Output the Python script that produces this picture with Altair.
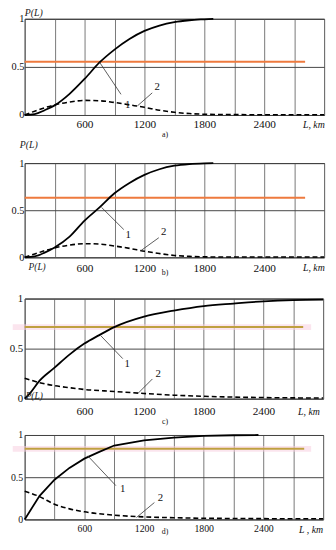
import altair as alt
import pandas as pd

FONT = "Liberation Serif"

# ---------------- data ----------------
La1 = [0, 100, 200, 300, 450, 600, 750, 900, 1050, 1200, 1350, 1500, 1650, 1800, 1890]
Pa1 = [0, 0.01, 0.05, 0.10, 0.22, 0.375, 0.546, 0.68, 0.79, 0.874, 0.93, 0.966, 0.985, 0.995, 1.0]
La2 = [0, 100, 200, 300, 450, 600, 750, 900, 1050, 1200, 1350, 1500, 1650, 1800, 2100, 2400, 2700, 3000]
Pa2 = [0, 0.04, 0.075, 0.105, 0.135, 0.152, 0.148, 0.13, 0.105, 0.08, 0.05, 0.028, 0.015, 0.008, 0.004, 0.003, 0.003, 0.003]
Lb1 = La1
Pb1 = [0, 0.01, 0.05, 0.105, 0.22, 0.39, 0.53, 0.68, 0.79, 0.875, 0.935, 0.972, 0.99, 0.998, 1.0]
Lb2 = La2
Pb2 = [0, 0.035, 0.07, 0.1, 0.13, 0.145, 0.14, 0.12, 0.095, 0.065, 0.04, 0.02, 0.01, 0.005, 0.003, 0.003, 0.003, 0.003]
Lc1 = [0, 50, 150, 300, 450, 600, 750, 900, 1200, 1500, 1800, 2100, 2400, 2700, 3000]
Pc1 = [0, 0.05, 0.18, 0.31, 0.44, 0.55, 0.635, 0.715, 0.82, 0.88, 0.925, 0.95, 0.972, 0.985, 0.99]
Lc2 = [0, 150, 300, 450, 600, 900, 1200, 1500, 1800, 2100, 2400, 2700, 3000]
Pc2 = [0.205, 0.16, 0.13, 0.11, 0.092, 0.072, 0.052, 0.035, 0.024, 0.016, 0.011, 0.008, 0.007]
Ld1 = [0, 150, 300, 450, 600, 750, 900, 1200, 1500, 1800, 2100, 2350]
Pd1 = [0, 0.28, 0.47, 0.61, 0.72, 0.80, 0.875, 0.935, 0.97, 0.99, 0.997, 1.0]
Ld2 = [0, 150, 300, 450, 600, 900, 1200, 1500, 1800, 2100, 2400, 2700, 3000]
Pd2 = [0.335, 0.27, 0.18, 0.125, 0.09, 0.05, 0.03, 0.02, 0.014, 0.011, 0.009, 0.008, 0.008]

THR = {"a": (0.553, 2810), "b": (0.632, 2810), "c": (0.715, 2800), "d": (0.836, 2810)}

LEAD = {
    "a": ([752, 1130], [0.546, 0.095], [965, 1278], [0.215, 0.23], [1032, 1328], [0.10, 0.29]),
    "b": ([770, 1163], [0.53, 0.07], [993, 1344], [0.295, 0.208], [1038, 1393], [0.233, 0.267]),
    "c": ([764, 1138], [0.63, 0.052], [986, 1284], [0.40, 0.197], [1031, 1343], [0.344, 0.246]),
    "d": ([634, 1124], [0.753, 0.023], [917, 1304], [0.40, 0.20], [986, 1364], [0.365, 0.25]),
}
X_VALUES = list(range(0, 3001, 300))
X_LABELS = [600, 1200, 1800, 2400]
Y_VALUES = [0, 0.5, 1]


def panel(key, L1, P1, L2, P2, w, h, K, M, Lx, R, thr_color, halo,
          xlab_pad, xlab_size, ylab_size, ylab_pad,
          xtitle, xtitle_xy, caption, cap_xy, texts=(), interp="monotone"):
    sx = alt.Scale(domain=[0, 3000], nice=False, zero=False)
    sy = alt.Scale(domain=[0, 1], nice=False, zero=False)
    xaxis = alt.Axis(
        values=X_VALUES, format="d",
        labelExpr="indexof(%s, datum.value) >= 0 ? datum.label : ''" % str(X_LABELS),
        ticks=False, domain=False, grid=True, gridColor="#777", gridWidth=1,
        labelFont=FONT, labelFontSize=xlab_size, labelColor="#111", labelPadding=xlab_pad,
        labelFlush=False, labelOverlap=False,
        title=xtitle, titleFont=FONT, titleFontSize=10, titleFontStyle="italic",
        titleFontWeight="normal", titleColor="#111", titleX=xtitle_xy[0], titleY=xtitle_xy[1],
        titleAlign="left", titleBaseline="alphabetic", titleAngle=0)
    yaxis = alt.Axis(
        values=Y_VALUES, format=".1~f", ticks=False, domain=False, grid=True,
        gridColor="#444", gridWidth=1, labelFont=FONT, labelFontSize=ylab_size,
        labelColor="#111", labelPadding=ylab_pad, labelFlush=False, labelOverlap=False,
        title=None)

    def X(f):
        return alt.X(f, scale=sx, axis=xaxis)

    def Y(f):
        return alt.Y(f, scale=sy, axis=yaxis)

    layers = []
    thr, thr_end = THR[key]
    if halo:
        dh = pd.DataFrame({"x1": [-120], "x2": [2880], "y": [thr]})
        layers.append(alt.Chart(dh).mark_rule(color="#F8CFE0", opacity=0.55, strokeWidth=6).encode(
            x=X("x1:Q"), x2="x2:Q", y=Y("y:Q")))
    do = pd.DataFrame({"x1": [0], "x2": [thr_end], "y": [thr]})
    layers.append(alt.Chart(do).mark_rule(color=thr_color, strokeWidth=2).encode(
        x=X("x1:Q"), x2="x2:Q", y=Y("y:Q")))

    d1 = pd.DataFrame({"L": L1, "P": P1})
    layers.append(alt.Chart(d1).mark_line(color="#000", strokeWidth=1.8, interpolate=interp).encode(
        x=X("L:Q"), y=Y("P:Q")))
    d2 = pd.DataFrame({"L": L2, "P": P2})
    layers.append(alt.Chart(d2).mark_line(color="#000", strokeWidth=1.6, strokeDash=[5, 3],
                                          interpolate="monotone").encode(
        x=X("L:Q"), y=Y("P:Q")))

    lx1, ly1, lx2, ly2, tx, ty = LEAD[key]
    dl = pd.DataFrame({"x1": lx1, "y1": ly1, "x2": lx2, "y2": ly2})
    layers.append(alt.Chart(dl).mark_rule(color="#333", strokeWidth=0.8).encode(
        x=X("x1:Q"), y=Y("y1:Q"), x2="x2:Q", y2="y2:Q"))
    dt = pd.DataFrame({"x": tx, "y": ty, "t": ["1", "2"]})
    layers.append(alt.Chart(dt).mark_text(font=FONT, fontSize=11, color="#111").encode(
        x=X("x:Q"), y=Y("y:Q"), text="t:N"))

    dc = pd.DataFrame({"c": [caption]})
    layers.append(alt.Chart(dc).mark_text(font=FONT, fontSize=8, color="#111", baseline="middle").encode(
        x=alt.value(cap_xy[0]), y=alt.value(h + cap_xy[1]), text="c:N"))
    for (t, ex, ey, fs, bl) in texts:
        de = pd.DataFrame({"c": [t], "k": [key]})
        layers.append(alt.Chart(de).mark_text(font=FONT, fontSize=fs, fontStyle="italic",
                                              color="#222", align="left", baseline=bl).encode(
            x=alt.value(ex), y=alt.value(ey), text="c:N"))

    # invisible frame that fixes the panel's outer extent
    db = pd.DataFrame({"b": [key]})
    layers.append(alt.Chart(db).mark_rect(fill="transparent", stroke="transparent", opacity=0).encode(
        x=alt.value(-Lx), x2=alt.value(w + R), y=alt.value(-K), y2=alt.value(h + M)))

    return alt.layer(*layers).properties(width=w, height=h)


ORANGE = "#EE7A3E"
OLIVE = "#BFA040"

pa = panel("a", La1, Pa1, La2, Pa2, w=305, h=98, K=11, M=24, Lx=14, R=1, thr_color=ORANGE, halo=False,
           xlab_pad=4, xlab_size=11.5, ylab_size=10.5, ylab_pad=0.8,
           xtitle="L, km", xtitle_xy=(283, 13), caption="a)", cap_xy=(143, 20),
           texts=[("P(L)", 0, -3, 10, "alphabetic")])
pb = panel("b", Lb1, Pb1, Lb2, Pb2, w=305, h=96, K=22, M=22, Lx=14, R=1, thr_color=ORANGE, halo=False,
           xlab_pad=5, xlab_size=11.5, ylab_size=10.5, ylab_pad=0.8,
           xtitle="L, km", xtitle_xy=(283, 13), caption="b)", cap_xy=(143, 16),
           texts=[("P(L)", -5, -15, 10, "alphabetic"), ("P(L)", 4, 96 + 10, 9.5, "middle")])
pc = panel("c", Lc1, Pc1, Lc2, Pc2, w=304, h=102, K=18, M=29, Lx=16, R=1, thr_color=OLIVE, halo=True,
           xlab_pad=7, xlab_size=11.5, ylab_size=11, ylab_pad=2,
           xtitle="L, km", xtitle_xy=(278, 16), caption="c)", cap_xy=(143, 24),
           texts=[("P(L)", 1, 102 - 3, 9.5, "middle")])
pd_ = panel("d", Ld1, Pd1, Ld2, Pd2, w=304, h=86, K=6, M=17, Lx=16, R=1, thr_color=OLIVE, halo=True,
            xlab_pad=4, xlab_size=10, ylab_size=10, ylab_pad=2,
            xtitle="L , km", xtitle_xy=(279, 13), caption="d)", cap_xy=(143, 13), interp="linear")

chart = alt.concat(pa, pb, pc, pd_, columns=1, spacing=0, align="none").properties(
    padding={"top": -6, "left": 0, "right": 0, "bottom": 0}
).configure_view(stroke="#222", strokeWidth=1)

chart.save("out.html", embed_options={"renderer": "svg", "actions": False})
